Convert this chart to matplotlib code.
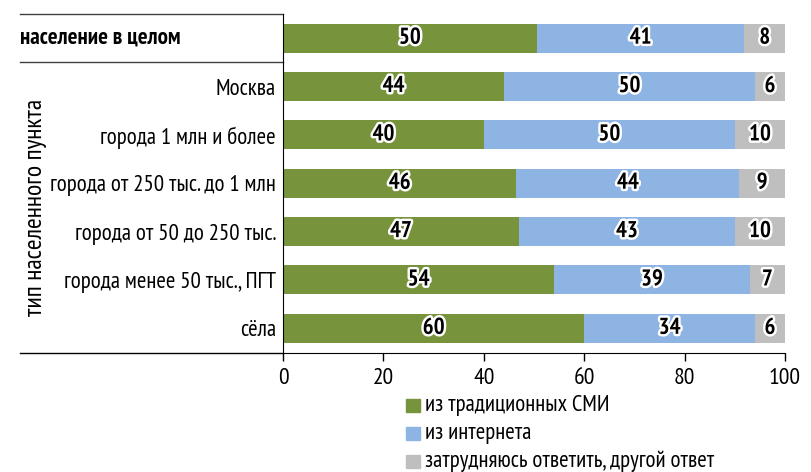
import numpy as np
import matplotlib
matplotlib.use("Agg")
import matplotlib.pyplot as plt
import matplotlib.patheffects as pe
from matplotlib.patches import Rectangle
from matplotlib import font_manager

# pick a narrow font with cyrillic, fall back to DejaVu
avail = set(f.name for f in font_manager.fontManager.ttflist)
prefs = ['PT Sans Narrow', 'Fira Sans Condensed', 'Roboto Condensed',
         'Ubuntu Condensed', 'Open Sans Condensed', 'Liberation Sans Narrow']
chosen = [p for p in prefs if p in avail]
plt.rcParams['font.family'] = chosen[:1] + ['DejaVu Sans']

categories = ["население в целом", "Москва", "города 1 млн и более",
              "города от 250 тыс. до 1 млн", "города от 50 до 250 тыс.",
              "города менее 50 тыс., ПГТ", "сёла"]
media = [50, 44, 40, 46, 47, 54, 60]
internet = [41, 50, 50, 44, 43, 39, 34]
other = [8, 6, 10, 9, 10, 7, 6]
series_names = ["из традиционных СМИ", "из интернета", "затрудняюсь ответить, другой ответ"]
colors = ["#77933C", "#8EB4E3", "#BFBFBF"]
xticks = [0, 20, 40, 60, 80, 100]

data = np.array([media, internet, other], dtype=float)
shares = data / data.sum(axis=0) * 100  # 100% stacked

fig = plt.figure(figsize=(8.11, 4.72), dpi=100)
ax = fig.add_axes([283/811, 1 - 352.5/472, 502/811, (352.5 - 14)/472])

y = np.arange(len(categories))
left = np.zeros(len(categories))
for i in range(3):
    ax.barh(y, shares[i], left=left, height=0.6, color=colors[i], zorder=2)
    for j in range(len(categories)):
        ax.text(left[j] + shares[i][j] / 2, y[j], str(int(data[i][j])),
                ha='center', va='center', fontsize=16.5, fontweight='bold',
                color='black', zorder=3,
                path_effects=[pe.withStroke(linewidth=3.5, foreground='white')])
    left += shares[i]

ax.set_xlim(0, 100)
ax.set_ylim(6.5, -0.5)
ax.set_xticks(xticks)
ax.set_xticklabels([str(t) for t in xticks], fontsize=17)
ax.set_yticks(y[1:])
ax.set_yticklabels(categories[1:], fontsize=16.5)
ax.tick_params(axis='y', length=0, pad=5)
ax.tick_params(axis='x', length=6, width=1, pad=5)
for s in ['top', 'right']:
    ax.spines[s].set_visible(False)

ax.text(-0.524, 0, categories[0], transform=ax.get_yaxis_transform(),
        ha='left', va='center', fontsize=16.5, fontweight='bold')

# horizontal rules on the left
trans = ax.get_yaxis_transform()
ax.plot([-0.524, 0], [-0.5, -0.5], transform=trans, color='#404040', lw=1, clip_on=False)
ax.plot([-0.524, 0], [0.5, 0.5], transform=trans, color='#404040', lw=1, clip_on=False)
ax.plot([-0.524, 0], [6.5, 6.5], transform=trans, color='black', lw=1, clip_on=False)

ax.text(-0.494, 3.5, "тип населенного пункта", transform=trans, rotation=90,
        ha='center', va='center', fontsize=18.5)

# legend
for k, name in enumerate(series_names):
    yc = 405 + 28 * k
    fig.patches.append(Rectangle((406/811, 1 - (yc + 6.5)/472), 13.5/811, 13/472,
                                 transform=fig.transFigure, color=colors[k]))
    fig.text(425/811, 1 - yc/472, name, ha='left', va='center', fontsize=16.5)

plt.savefig("out.png", dpi=100)
